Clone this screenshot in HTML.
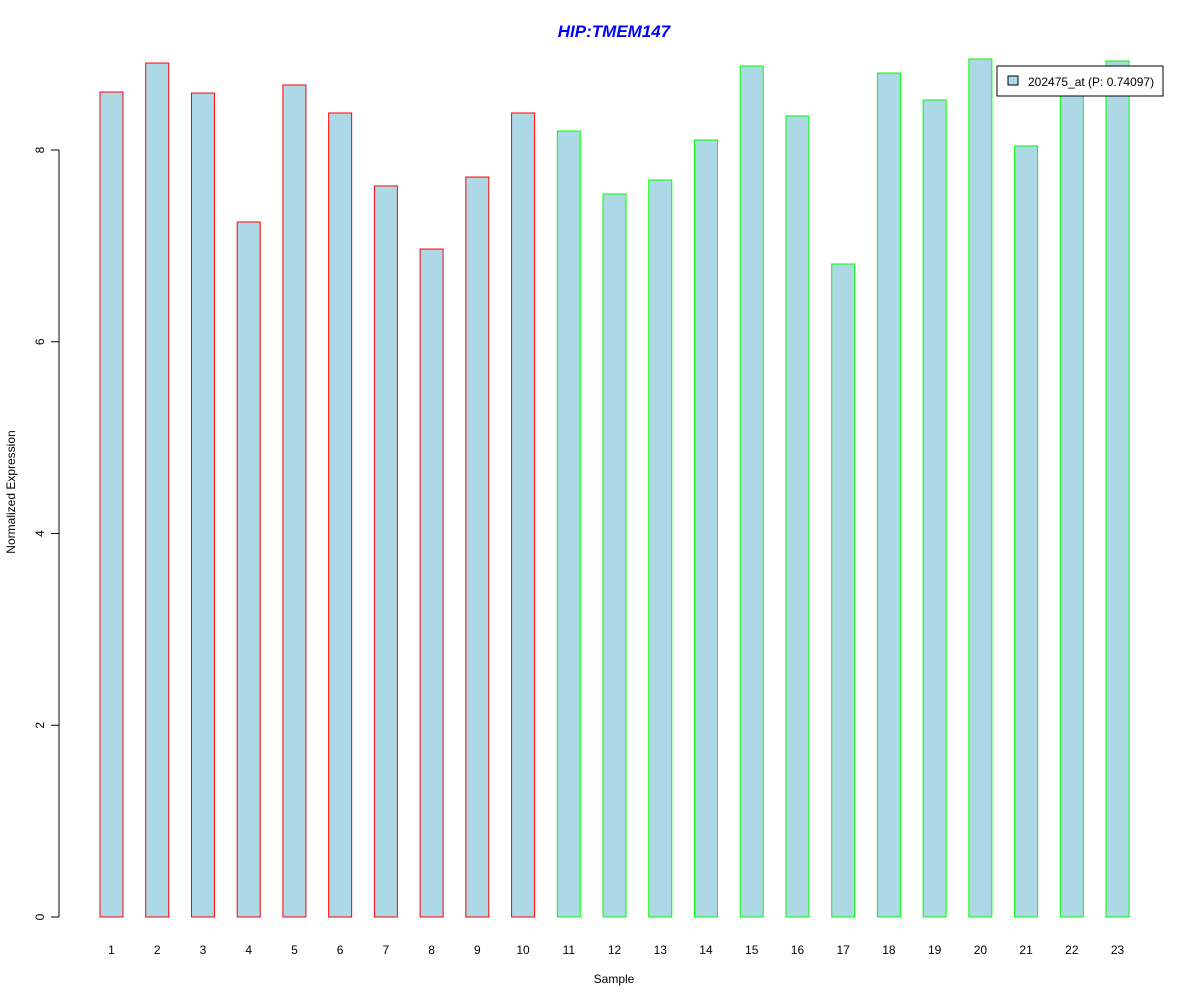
<!DOCTYPE html>
<html><head><meta charset="utf-8"><style>
body{margin:0;background:#fff;}
svg{display:block;font-family:"Liberation Sans",Arial,sans-serif;}
</style></head><body>
<svg id="chart" width="1200" height="1000">
<text x="614" y="37" text-anchor="middle" font-size="17" font-weight="bold" font-style="italic" fill="#0000ff">HIP:TMEM147</text>
<text x="614" y="983" text-anchor="middle" font-size="12">Sample</text>
<text transform="translate(15,492) rotate(-90)" text-anchor="middle" font-size="12">Normalized Expression</text>
<g id="yaxis"></g>
<g id="bars"></g>
<g id="xlabels"></g>
<g>
<rect x="997" y="66" width="166" height="30" fill="#fff" stroke="#000"/>
<rect x="1008" y="76" width="10" height="9" fill="#add8e6" stroke="#000"/>
<text x="1028" y="86" font-size="12">202475_at (P: 0.74097)</text>
</g>
</svg>
<script>
const categories=["1","2","3","4","5","6","7","8","9","10","11","12","13","14","15","16","17","18","19","20","21","22","23"];
const values=[8.605,8.907,8.594,7.249,8.678,8.386,7.625,6.967,7.718,8.386,8.198,7.541,7.687,8.104,8.876,8.355,6.811,8.803,8.522,8.949,8.042,8.63,8.928];
const groups=["a","a","a","a","a","a","a","a","a","a","b","b","b","b","b","b","b","b","b","b","b","b","b"];
const yTicks=[0,2,4,6,8];
const NS="http://www.w3.org/2000/svg";
function y(v){return 917-v*95.875;}
function x(i){return 111.5+i*45.73;}
const ya=document.getElementById("yaxis");
let l=document.createElementNS(NS,"line");
l.setAttribute("x1",59);l.setAttribute("x2",59);l.setAttribute("y1",y(0));l.setAttribute("y2",y(8));l.setAttribute("stroke","#000");


ya.appendChild(l);
yTicks.forEach(t=>{
 const tk=document.createElementNS(NS,"line");
 tk.setAttribute("x1",51);tk.setAttribute("x2",59);tk.setAttribute("y1",y(t));tk.setAttribute("y2",y(t));tk.setAttribute("stroke","#000");
 
 
 ya.appendChild(tk);
 const tx=document.createElementNS(NS,"text");
 tx.setAttribute("transform","translate(44,"+y(t)+") rotate(-90)");
 tx.setAttribute("text-anchor","middle");tx.setAttribute("font-size","12");tx.textContent=t;
 
 
 ya.appendChild(tx);
});
const bg=document.getElementById("bars"),xl=document.getElementById("xlabels");
values.forEach((v,i)=>{
 const r=document.createElementNS(NS,"rect");
 r.setAttribute("x",x(i)-11.5);r.setAttribute("width",23);
 r.setAttribute("y",y(v));r.setAttribute("height",y(0)-y(v));
 r.setAttribute("fill","#add8e6");r.setAttribute("stroke",groups[i]==="a"?"#ff0000":"#00ff00");
 
 
 bg.appendChild(r);
 const t=document.createElementNS(NS,"text");
 t.setAttribute("x",x(i));t.setAttribute("y",954);t.setAttribute("text-anchor","middle");t.setAttribute("font-size","12");
 t.textContent=categories[i];
 
 
 xl.appendChild(t);
});
</script>
</body></html>
